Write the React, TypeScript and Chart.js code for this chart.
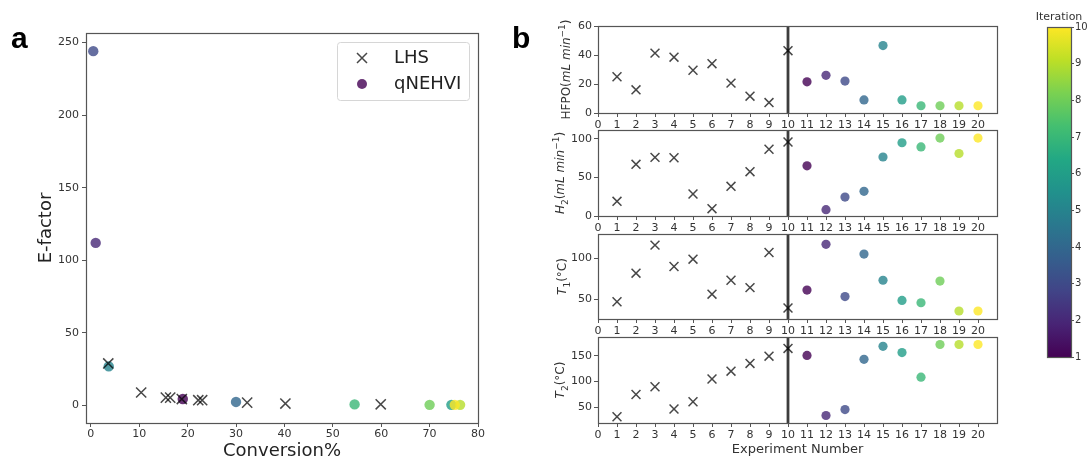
import React, { useEffect, useRef } from 'react';
import { Chart, registerables } from 'chart.js';
Chart.register(...registerables);

const FONT = '"DejaVu Sans", Verdana, sans-serif';
const TEXT = '#333333';
const SPINE = '#555555';
const CROSS = 'rgba(0,0,0,0.72)';

// ---------- Panel a data ----------
const LHS_CONVERSION = [3.6, 10.4, 15.5, 16.4, 18.8, 22.2, 23.0, 32.3, 40.2, 59.9];
const LHS_EFACTOR = [29, 9, 5.5, 5.5, 4.5, 3.7, 3.7, 2.0, 1.4, 0.9];
const QN_CONVERSION = [19.0, 1.0, 0.5, 30.0, 3.7, 74.5, 54.5, 70.0, 76.3, 75.2];
const QN_EFACTOR = [4.5, 112, 244, 2.5, 27, 0.5, 0.8, 0.5, 0.5, 0.5];
const ITERATIONS = [1, 2, 3, 4, 5, 6, 7, 8, 9, 10];
const A_X_TICKS = [0, 10, 20, 30, 40, 50, 60, 70, 80];
const A_Y_TICKS = [0, 50, 100, 150, 200, 250];

// ---------- Panel b data ----------
const EXP_LHS = [1, 2, 3, 4, 5, 6, 7, 8, 9, 10];
const EXP_QN = [11, 12, 13, 14, 15, 16, 17, 18, 19, 20];
const HFPO_LHS = [25, 16, 41.3, 38.5, 29.5, 34, 20.6, 11.6, 7.2, 43];
const HFPO_QN = [21.5, 26, 22, 9, 46.5, 9, 5, 5, 5, 5];
const H2_LHS = [19, 67, 76, 75.5, 28.5, 9.5, 38.5, 57.5, 86.5, 96];
const H2_QN = [65, 8.2, 24.5, 32, 76.5, 95, 89.5, 101, 81, 101];
const T1_LHS = [46.7, 81.7, 116, 89.8, 98.8, 56, 73, 64, 107, 39];
const T1_QN = [61, 117, 53, 105, 73, 48.3, 45.5, 72, 35.4, 35.4];
const T2_LHS = [32, 75, 90, 47, 61, 105, 120, 135, 149, 164];
const T2_QN = [150.5, 34.5, 46, 143, 168, 156, 108.5, 171.5, 171.5, 171.5];
const B_X_TICKS = [0, 1, 2, 3, 4, 5, 6, 7, 8, 9, 10, 11, 12, 13, 14, 15, 16, 17, 18, 19, 20];
const HFPO_TICKS = [0, 20, 40, 60];
const H2_TICKS = [0, 50, 100];
const T1_TICKS = [50, 100];
const T2_TICKS = [50, 100, 150];
const SPLIT_EXPERIMENT = 10;
const CBAR_TICKS = [1, 2, 3, 4, 5, 6, 7, 8, 9, 10];

const VIRIDIS = ['#440154', '#482475', '#414487', '#355f8d', '#2a788e', '#21918c', '#22a884', '#44bf70', '#7ad151', '#bddf26', '#fde725'];

function hexRgb(h: string) {
  const n = parseInt(h.slice(1), 16);
  return [(n >> 16) & 255, (n >> 8) & 255, n & 255];
}
function viridis(t: number, a = 1) {
  t = Math.max(0, Math.min(1, t));
  const n = VIRIDIS.length - 1;
  const f = t * n;
  const i = Math.min(Math.floor(f), n - 1);
  const u = f - i;
  const c0 = hexRgb(VIRIDIS[i]);
  const c1 = hexRgb(VIRIDIS[i + 1]);
  const c = c0.map((v, k) => Math.round(v + (c1[k] - v) * u));
  return `rgba(${c[0]},${c[1]},${c[2]},${a})`;
}
const iterColor = (it: number) => viridis((it - 1) / 9, 0.8);

function axis(o: any) {
  return {
    type: 'linear',
    position: o.position,
    display: o.display === undefined ? true : o.display,
    min: o.min,
    max: o.max,
    afterBuildTicks: (s: any) => {
      s.ticks = o.ticks.map((v: number) => ({ value: v }));
    },
    afterFit: (s: any) => {
      if (o.position === 'bottom' || o.position === 'top') s.height = o.size;
      else s.width = o.size;
    },
    grid: { display: true, drawOnChartArea: false, drawTicks: true, tickLength: o.tickLength || 4, color: SPINE, tickColor: SPINE, lineWidth: 1 },
    border: { display: false },
    ticks: {
      font: { family: FONT, size: o.tickSize || 11 },
      color: TEXT,
      padding: o.tickPadding === undefined ? 2 : o.tickPadding,
      autoSkip: false,
      maxRotation: 0,
      callback: (v: any) => String(v),
    },
    title: o.title || { display: false },
  };
}

const framePlugin = {
  id: 'frame',
  afterDraw(chart: any) {
    const { ctx, chartArea } = chart;
    const { left, top, right, bottom } = chartArea;
    ctx.save();
    ctx.strokeStyle = SPINE;
    ctx.lineWidth = 1.2;
    ctx.strokeRect(Math.round(left) + 0.5, Math.round(top) + 0.5, Math.round(right - left), Math.round(bottom - top));
    ctx.restore();
  },
};

const legendAPlugin = {
  id: 'legendA',
  afterDraw(chart: any) {
    const { ctx, chartArea } = chart;
    const w = 132, h = 58;
    const x0 = chartArea.right - 9 - w;
    const y0 = chartArea.top + 9;
    ctx.save();
    ctx.beginPath();
    (ctx as any).roundRect(x0 + 0.5, y0 + 0.5, w, h, 3);
    ctx.fillStyle = 'rgba(255,255,255,0.85)';
    ctx.fill();
    ctx.strokeStyle = '#d6d6d6';
    ctx.lineWidth = 1;
    ctx.stroke();
    const mx = x0 + 25;
    const y1 = y0 + 16, y2 = y0 + 42;
    ctx.strokeStyle = CROSS;
    ctx.lineWidth = 1.5;
    ctx.beginPath();
    ctx.moveTo(mx - 5, y1 - 5); ctx.lineTo(mx + 5, y1 + 5);
    ctx.moveTo(mx - 5, y1 + 5); ctx.lineTo(mx + 5, y1 - 5);
    ctx.stroke();
    ctx.fillStyle = iterColor(1);
    ctx.beginPath();
    ctx.arc(mx, y2, 5, 0, Math.PI * 2);
    ctx.fill();
    ctx.fillStyle = '#222';
    ctx.font = `18px ${FONT}`;
    ctx.textBaseline = 'middle';
    ctx.textAlign = 'left';
    ctx.fillText('LHS', x0 + 57, y1);
    ctx.fillText('qNEHVI', x0 + 57, y2);
    ctx.restore();
  },
};

type Seg = { t: string; it?: boolean; s?: 'sub' | 'sup' };

function drawRichVertical(ctx: CanvasRenderingContext2D, segs: Seg[], cx: number, cy: number, size: number) {
  const fontFor = (s: Seg) => `${s.it ? 'italic ' : ''}${s.s ? Math.round(size * 0.72) : size}px ${FONT}`;
  let total = 0;
  const widths = segs.map((s) => {
    ctx.font = fontFor(s);
    const w = ctx.measureText(s.t).width;
    total += w;
    return w;
  });
  ctx.save();
  ctx.translate(cx, cy);
  ctx.rotate(-Math.PI / 2);
  ctx.textBaseline = 'alphabetic';
  ctx.textAlign = 'left';
  ctx.fillStyle = TEXT;
  let x = -total / 2;
  const baseY = size * 0.36;
  segs.forEach((s, i) => {
    ctx.font = fontFor(s);
    const dy = s.s === 'sub' ? size * 0.28 : s.s === 'sup' ? -size * 0.42 : 0;
    ctx.fillText(s.t, x, baseY + dy);
    x += widths[i];
  });
  ctx.restore();
}

function subplotConfig(p: any) {
  const richTitle = {
    id: 'richTitle',
    afterDraw(chart: any) {
      const { ctx, chartArea } = chart;
      drawRichVertical(ctx, p.title, chartArea.left - p.titleOffset, (chartArea.top + chartArea.bottom) / 2, 12);
    },
  };
  const divider = {
    id: 'divider',
    beforeDatasetsDraw(chart: any) {
      const { ctx, chartArea, scales } = chart;
      const x = scales.x.getPixelForValue(SPLIT_EXPERIMENT);
      ctx.save();
      ctx.strokeStyle = 'rgba(40,40,40,0.9)';
      ctx.lineWidth = 2.8;
      ctx.beginPath();
      ctx.moveTo(x, chartArea.top);
      ctx.lineTo(x, chartArea.bottom);
      ctx.stroke();
      ctx.restore();
    },
  };
  return {
    type: 'scatter',
    data: {
      datasets: [
        {
          label: 'LHS',
          data: EXP_LHS.map((x, i) => ({ x, y: p.lhs[i] })),
          pointStyle: 'crossRot',
          pointRadius: 6.3,
          pointBorderColor: CROSS,
          pointBackgroundColor: 'transparent',
          pointBorderWidth: 1.5,
        },
        {
          label: 'qNEHVI',
          data: EXP_QN.map((x, i) => ({ x, y: p.qn[i] })),
          pointStyle: 'circle',
          pointRadius: 4.6,
          pointBackgroundColor: ITERATIONS.map((it) => iterColor(it)),
          pointBorderWidth: 0,
        },
      ],
    },
    options: {
      responsive: false,
      animation: false,
      events: [],
      layout: { padding: { left: 0, right: 13, top: p.padTop, bottom: 0 } },
      plugins: { legend: { display: false }, tooltip: { enabled: false } },
      scales: {
        x: axis({
          position: 'bottom', min: 0, max: 21, ticks: B_X_TICKS, size: p.xSize,
          title: p.xTitle
            ? { display: true, text: 'Experiment Number', color: TEXT, font: { family: FONT, size: 13 }, padding: { top: 0, bottom: 2 } }
            : { display: false },
        }),
        y: axis({ position: 'left', min: p.yMin, max: p.yMax, ticks: p.yTicks, size: 88 }),
      },
    },
    plugins: [divider, framePlugin, richTitle],
  };
}

function panelAConfig() {
  return {
    type: 'scatter',
    data: {
      datasets: [
        {
          label: 'LHS',
          data: LHS_CONVERSION.map((x, i) => ({ x, y: LHS_EFACTOR[i] })),
          pointStyle: 'crossRot',
          pointRadius: 7.2,
          pointBorderColor: CROSS,
          pointBackgroundColor: 'transparent',
          pointBorderWidth: 1.5,
        },
        {
          label: 'qNEHVI',
          data: QN_CONVERSION.map((x, i) => ({ x, y: QN_EFACTOR[i] })),
          pointStyle: 'circle',
          pointRadius: 5.2,
          pointBackgroundColor: ITERATIONS.map((it) => iterColor(it)),
          pointBorderWidth: 0,
        },
      ],
    },
    options: {
      responsive: false,
      animation: false,
      events: [],
      layout: { padding: { left: 0, right: 22, top: 33, bottom: 0 } },
      plugins: { legend: { display: false }, tooltip: { enabled: false } },
      scales: {
        x: axis({
          position: 'bottom', min: -1, max: 80, ticks: A_X_TICKS, size: 36, tickPadding: 1,
          title: { display: true, text: 'Conversion%', color: '#222', font: { family: FONT, size: 18 }, padding: { top: 0, bottom: -3 } },
        }),
        y: axis({
          position: 'left', min: -12, max: 256.5, ticks: A_Y_TICKS, size: 86, tickPadding: 3,
          title: { display: true, text: 'E-factor', color: '#222', font: { family: FONT, size: 18 }, padding: { top: 36, bottom: 0 } },
        }),
      },
    },
    plugins: [framePlugin, legendAPlugin],
  };
}

function colorbarConfig() {
  const gradientPlugin = {
    id: 'cbar',
    beforeDraw(chart: any) {
      const { ctx, chartArea } = chart;
      const { left, top, right, bottom } = chartArea;
      const g = ctx.createLinearGradient(0, bottom, 0, top);
      VIRIDIS.forEach((c, i) => g.addColorStop(i / (VIRIDIS.length - 1), c));
      ctx.save();
      ctx.fillStyle = g;
      ctx.fillRect(left, top, right - left, bottom - top);
      ctx.fillStyle = TEXT;
      ctx.font = `11px ${FONT}`;
      ctx.textAlign = 'center';
      ctx.textBaseline = 'middle';
      ctx.fillText('Iteration', (left + right) / 2, top - 10);
      ctx.restore();
    },
  };
  return {
    type: 'scatter',
    data: { datasets: [] },
    options: {
      responsive: false,
      animation: false,
      events: [],
      layout: { padding: { left: 32, right: 0, top: 27, bottom: 102 } },
      plugins: { legend: { display: false }, tooltip: { enabled: false } },
      scales: {
        x: { type: 'linear', display: false, min: 0, max: 1 },
        y: axis({ position: 'right', min: 1, max: 10, ticks: CBAR_TICKS, size: 18, tickLength: 3, tickPadding: 1, tickSize: 10 }),
      },
    },
    plugins: [gradientPlugin, framePlugin],
  };
}

function ChartBox(props: { left: number; top: number; width: number; height: number; build: () => any }) {
  const ref = useRef<HTMLCanvasElement>(null);
  useEffect(() => {
    const chart = new Chart(ref.current as HTMLCanvasElement, props.build());
    return () => chart.destroy();
  }, []);
  return (
    <div style={{ position: 'absolute', left: props.left, top: props.top, width: props.width, height: props.height }}>
      <canvas ref={ref} width={props.width} height={props.height} style={{ display: 'block', width: props.width, height: props.height }} />
    </div>
  );
}

const labelStyle: React.CSSProperties = {
  position: 'absolute',
  fontFamily: '"Liberation Sans", Arial, sans-serif',
  fontWeight: 'bold',
  fontSize: 30,
  lineHeight: '30px',
  color: '#000',
};

export default function App() {
  return (
    <div style={{ position: 'absolute', left: 0, top: 0, width: 1089, height: 459, background: '#fff', overflow: 'hidden' }}>
      <ChartBox left={0} top={0} width={500} height={459} build={panelAConfig} />
      <ChartBox left={510} top={0} width={500} height={133} build={() => subplotConfig({
        lhs: HFPO_LHS, qn: HFPO_QN, yMin: 0, yMax: 60, yTicks: HFPO_TICKS, padTop: 26, xSize: 20, titleOffset: 32,
        title: [{ t: 'HFPO(' }, { t: 'mL min', it: true }, { t: '\u22121', s: 'sup' }, { t: ')' }],
      })} />
      <ChartBox left={510} top={118} width={500} height={118} build={() => subplotConfig({
        lhs: H2_LHS, qn: H2_QN, yMin: 0, yMax: 111.5, yTicks: H2_TICKS, padTop: 12, xSize: 20, titleOffset: 38,
        title: [{ t: 'H', it: true }, { t: '2', s: 'sub' }, { t: '(' }, { t: 'mL min', it: true }, { t: '\u22121', s: 'sup' }, { t: ')' }],
      })} />
      <ChartBox left={510} top={222} width={500} height={117} build={() => subplotConfig({
        lhs: T1_LHS, qn: T1_QN, yMin: 25.6, yMax: 129.6, yTicks: T1_TICKS, padTop: 12, xSize: 20, titleOffset: 36,
        title: [{ t: 'T', it: true }, { t: '1', s: 'sub' }, { t: '(\u00b0C)' }],
      })} />
      <ChartBox left={510} top={325} width={500} height={134} build={() => subplotConfig({
        lhs: T2_LHS, qn: T2_QN, yMin: 20, yMax: 186, yTicks: T2_TICKS, padTop: 12, xSize: 36, xTitle: true, titleOffset: 38,
        title: [{ t: 'T', it: true }, { t: '2', s: 'sub' }, { t: '(\u00b0C)' }],
      })} />
      <ChartBox left={1015} top={0} width={74} height={459} build={colorbarConfig} />
      <div style={{ ...labelStyle, left: 11, top: 23 }}>a</div>
      <div style={{ ...labelStyle, left: 512, top: 23 }}>b</div>
    </div>
  );
}
